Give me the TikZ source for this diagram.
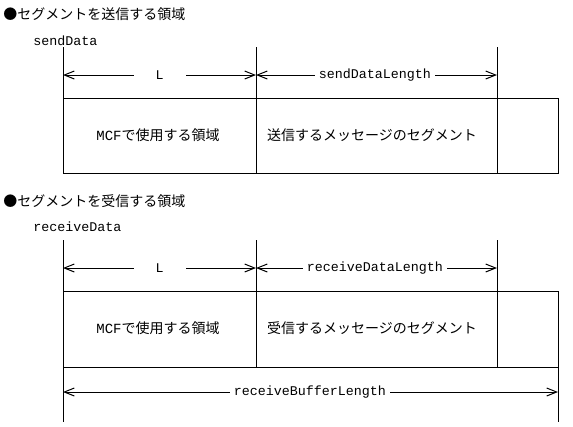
\documentclass[tikz,border=0pt]{standalone}
\usepackage{fontspec}
\setmainfont{Noto Sans CJK JP}
\newfontfamily\mono{Liberation Mono}
\usetikzlibrary{arrows.meta}
\begin{document}
\begin{tikzpicture}[x=0.75pt,y=-0.75pt,
  every node/.style={font=\fontsize{10.5pt}{12pt}\selectfont},
  line/.style={draw=black,line width=0.75pt},
  dim/.style={line,{Straight Barb[length=7.5pt,width=6pt]}-{Straight Barb[length=7.5pt,width=6pt]}},
  dimlabel/.style={fill=white,inner sep=3pt,font=\fontsize{10pt}{12pt}\mono},
  widelabel/.style={dimlabel,minimum width=39pt},
  title/.style={anchor=base west,inner sep=0pt},
  cell/.style={inner sep=0pt}]
\useasboundingbox (0,0) rectangle (573,426);

% ---------- top ----------
\node[title] (t1) at (3,19.5) {●セグメントを送信する領域};
\node[title,font=\fontsize{10pt}{12pt}\mono] (sd) at (33,45) {sendData};

\coordinate (a0) at (63,47);
\coordinate (a1) at (256,47);
\coordinate (a2) at (497,47);
\coordinate (b0) at (63,173);
\coordinate (b1) at (256,173);
\coordinate (b2) at (497,173);
\coordinate (bt0) at (63,98);
\coordinate (br) at (558,173);
\draw[line] (a0) -- (b0);
\draw[line] (a1) -- (b1);
\draw[line] (a2) -- (b2);
\draw[line] (bt0) rectangle (br);

\coordinate (d0) at (63,75);
\coordinate (d1) at (256,75);
\coordinate (d2) at (497,75);
\draw[dim] (d0) -- (d1);
\draw[dim] (d1) -- (d2);
\node[widelabel] (lL1) at (159.5,75) {L};
\node[dimlabel] (lS1) at (375,75) {sendDataLength};

\node[cell] (c11) at (158,135) {{\mono MCF}で使用する領域};
\node[cell] (c12) at (372,135) {送信するメッセージのセグメント};

% ---------- bottom ----------
\node[title] (t2) at (3,206.5) {●セグメントを受信する領域};
\node[title,font=\fontsize{10pt}{12pt}\mono] (rd) at (33,231) {receiveData};

\coordinate (e0) at (63,240);
\coordinate (e1) at (256,240);
\coordinate (e2) at (497,240);
\coordinate (f0) at (63,422);
\coordinate (f1) at (256,367);
\coordinate (f2) at (497,367);
\coordinate (g0) at (63,291);
\coordinate (gr) at (558,367);
\coordinate (gt) at (558,291);
\coordinate (gb) at (558,422);
\draw[line] (e0) -- (f0);
\draw[line] (e1) -- (f1);
\draw[line] (e2) -- (f2);
\draw[line] (g0) rectangle (gr);
\draw[line] (gt) -- (gb);

\coordinate (h0) at (63,268);
\coordinate (h1) at (256,268);
\coordinate (h2) at (497,268);
\draw[dim] (h0) -- (h1);
\draw[dim] (h1) -- (h2);
\node[widelabel] (lL2) at (159.5,268) {L};
\node[dimlabel] (lR2) at (375,268) {receiveDataLength};

\coordinate (k0) at (63,392);
\coordinate (k1) at (558,392);
\draw[dim] (k0) -- (k1);
\node[dimlabel] (lB) at (310,392) {receiveBufferLength};

\node[cell] (c21) at (158,328) {{\mono MCF}で使用する領域};
\node[cell] (c22) at (372,328) {受信するメッセージのセグメント};
\end{tikzpicture}
\end{document}
